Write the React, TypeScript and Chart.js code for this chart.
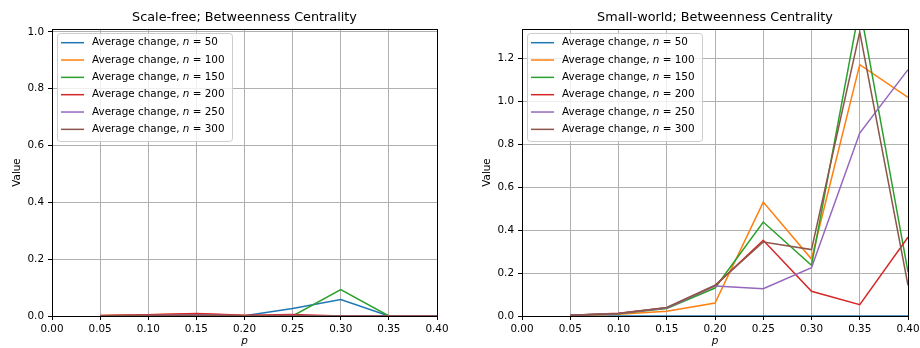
import React, { useEffect, useRef } from 'react';
import { Chart, registerables } from 'chart.js';

Chart.register(...registerables);

// ---- data ----
const pValues = [0.05, 0.1, 0.15, 0.2, 0.25, 0.3, 0.35, 0.4];
const sizes = [50, 100, 150, 200, 250, 300];
const colors = ['#1f77b4', '#ff7f0e', '#2ca02c', '#d62728', '#9467bd', '#8c564b'];
const xTicks = [0, 0.05, 0.1, 0.15, 0.2, 0.25, 0.3, 0.35, 0.4];

// Scale-free
const sfN50 = [0.0, 0.0, 0.002, 0.001, 0.026, 0.058, 0.0, 0.0];
const sfN100 = [0.002, 0.004, 0.008, 0.002, 0.001, 0.0, 0.0, 0.0];
const sfN150 = [0.001, 0.002, 0.004, 0.001, 0.0, 0.093, 0.0, 0.0];
const sfN200 = [0.002, 0.004, 0.009, 0.003, 0.005, 0.0, 0.0, 0.0];
const sfN250 = [0.001, 0.002, 0.004, 0.001, 0.002, 0.0, 0.0, 0.0];
const sfN300 = [0.001, 0.002, 0.003, 0.001, 0.001, 0.0, 0.0, 0.0];

// Small-world
const swN50 = [0.0, 0.0, 0.0, 0.0, 0.0, 0.0, 0.0, 0.0];
const swN100 = [0.002, 0.008, 0.022, 0.06, 0.53, 0.265, 1.169, 1.017];
const swN150 = [0.003, 0.01, 0.035, 0.13, 0.437, 0.236, 1.44, 0.205];
const swN200 = [0.003, 0.013, 0.038, 0.14, 0.352, 0.115, 0.053, 0.367];
const swN250 = [0.003, 0.012, 0.037, 0.14, 0.127, 0.225, 0.851, 1.146];
const swN300 = [0.003, 0.012, 0.04, 0.143, 0.344, 0.309, 1.321, 0.143];

const sfSeries = [sfN50, sfN100, sfN150, sfN200, sfN250, sfN300];
const swSeries = [swN50, swN100, swN150, swN200, swN250, swN300];

const FONT = '"DejaVu Sans", Verdana, sans-serif';
const TICK_SIZE = 10.4;
const TITLE_SIZE = 12.8;

Chart.defaults.font.family = FONT;
Chart.defaults.color = '#000';

const framePlugin = {
  id: 'mplFrame',
  afterDatasetsDraw(chart: any) {
    const { ctx, chartArea: ca } = chart;
    ctx.save();
    // spines
    ctx.strokeStyle = '#000';
    ctx.lineWidth = 1;
    const l = Math.round(ca.left - 0.5) + 0.5;
    const r = Math.round(ca.right - 0.5) + 0.5;
    const t = Math.round(ca.top - 0.5) + 0.5;
    const b = Math.round(ca.bottom - 0.5) + 0.5;
    ctx.strokeRect(l, t, r - l, b - t);

    // legend
    const bx = ca.left + 5.5;
    const by = ca.top + 4.5;
    const bw = 175;
    const bh = 108;
    ctx.beginPath();
    ctx.roundRect(bx, by, bw, bh, 3);
    ctx.fillStyle = 'rgba(255,255,255,0.8)';
    ctx.fill();
    ctx.strokeStyle = '#cccccc';
    ctx.lineWidth = 1;
    ctx.stroke();

    chart.data.datasets.forEach((ds: any, i: number) => {
      const y = ca.top + 13.7 + i * 17.33;
      ctx.beginPath();
      ctx.strokeStyle = ds.borderColor;
      ctx.lineWidth = 1.5;
      ctx.moveTo(ca.left + 9, y);
      ctx.lineTo(ca.left + 32, y);
      ctx.stroke();

      const m = /^(.*?)(n)( = .*)$/.exec(ds.label) || [ds.label, ds.label, '', ''];
      let tx = ca.left + 40;
      ctx.fillStyle = '#000';
      ctx.textBaseline = 'middle';
      ctx.textAlign = 'left';
      ctx.font = `${TICK_SIZE}px ${FONT}`;
      ctx.fillText(m[1], tx, y);
      tx += ctx.measureText(m[1]).width;
      ctx.font = `italic ${TICK_SIZE}px ${FONT}`;
      ctx.fillText(m[2], tx, y);
      tx += ctx.measureText(m[2]).width;
      ctx.font = `${TICK_SIZE}px ${FONT}`;
      ctx.fillText(m[3], tx, y);
    });
    ctx.restore();
  },
};

function makeConfig(
  title: string,
  series: number[][],
  yMax: number,
  yAxisWidth: number,
  yTitlePad: number,
  rightPad: number
): any {
  const datasets = series.map((vals, i) => ({
    label: `Average change, n = ${sizes[i]}`,
    data: vals.map((v, j) => ({ x: pValues[j], y: v })),
    borderColor: colors[i],
    backgroundColor: colors[i],
    borderWidth: 1.5,
    pointRadius: 0,
    tension: 0,
    fill: false,
    order: series.length - i,
  }));
  const gridStyle = {
    color: '#b0b0b0',
    lineWidth: 1,
    tickLength: 4,
    tickColor: '#000',
    tickWidth: 1,
    drawTicks: true,
  };
  return {
    type: 'line',
    data: { datasets },
    plugins: [framePlugin],
    options: {
      responsive: false,
      animation: false,
      devicePixelRatio: 1,
      layout: { padding: { left: 0, right: rightPad, top: 0, bottom: 0 } },
      plugins: {
        legend: { display: false },
        tooltip: { enabled: false },
        title: {
          display: true,
          text: title,
          color: '#000',
          font: { size: TITLE_SIZE, weight: 'normal', family: FONT },
          padding: { top: 9.6, bottom: 4.04 },
          fullSize: false,
        },
      },
      scales: {
        x: {
          type: 'linear',
          min: 0,
          max: 0.4,
          afterBuildTicks: (s: any) => {
            s.ticks = xTicks.map((v) => ({ value: v }));
          },
          ticks: {
            callback: (v: any) => Number(v).toFixed(2),
            padding: 3,
            maxRotation: 0,
            autoSkip: false,
            color: '#000',
            font: { size: TICK_SIZE, family: FONT },
          },
          grid: gridStyle,
          border: { display: false },
          title: {
            display: true,
            text: 'p',
            color: '#000',
            font: { size: TICK_SIZE, style: 'italic', family: FONT },
            padding: { top: 0, bottom: 0 },
          },
          afterFit: (s: any) => {
            s.height = 32;
            s.paddingLeft = 0;
            s.paddingRight = 0;
          },
        },
        y: {
          type: 'linear',
          min: 0,
          max: yMax,
          ticks: {
            stepSize: 0.2,
            includeBounds: false,
            callback: (v: any) => Number(v).toFixed(1),
            padding: 4,
            color: '#000',
            font: { size: TICK_SIZE, family: FONT },
          },
          grid: gridStyle,
          border: { display: false },
          title: {
            display: true,
            text: 'Value',
            color: '#000',
            font: { size: TICK_SIZE, family: FONT },
            padding: { top: yTitlePad, bottom: 0 },
          },
          afterFit: (s: any) => {
            s.width = yAxisWidth;
            s.paddingTop = 0;
            s.paddingBottom = 0;
          },
        },
      },
    },
  };
}

export default function App() {
  const leftRef = useRef<HTMLCanvasElement>(null);
  const rightRef = useRef<HTMLCanvasElement>(null);

  useEffect(() => {
    document.body.style.margin = '0';
    const c1 = new Chart(
      leftRef.current as HTMLCanvasElement,
      makeConfig('Scale-free; Betweenness Centrality', sfSeries, 1.01, 52, 11.06, 23)
    );
    const c2 = new Chart(
      rightRef.current as HTMLCanvasElement,
      makeConfig('Small-world; Betweenness Centrality', swSeries, 1.335, 62, 21.46, 12)
    );
    return () => {
      c1.destroy();
      c2.destroy();
    };
  }, []);

  return (
    <div style={{ position: 'relative', width: 920, height: 348, background: '#fff' }}>
      <canvas
        ref={leftRef}
        width={460}
        height={348}
        style={{ position: 'absolute', left: 0, top: 0, width: 460, height: 348 }}
      />
      <canvas
        ref={rightRef}
        width={460}
        height={348}
        style={{ position: 'absolute', left: 460, top: 0, width: 460, height: 348 }}
      />
    </div>
  );
}
